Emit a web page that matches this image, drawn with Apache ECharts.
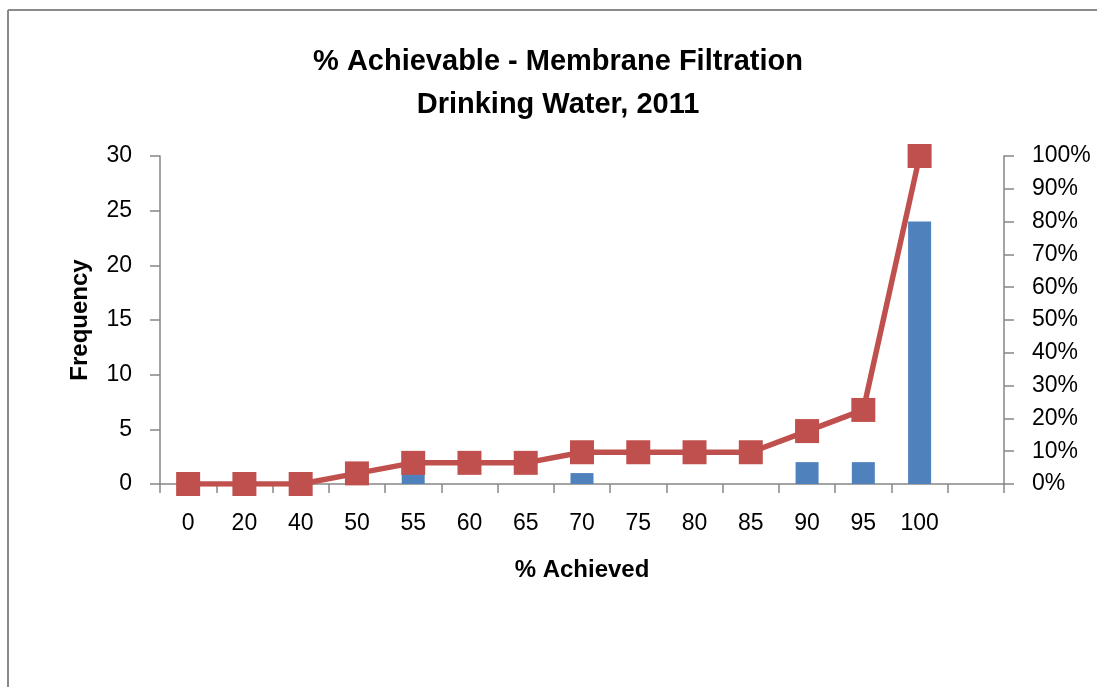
<!DOCTYPE html>
<html>
<head>
<meta charset="utf-8">
<script src="https://cdn.jsdelivr.net/npm/echarts@6/dist/echarts.min.js"></script>
<style>
html,body{margin:0;padding:0;background:#fff;}
#chart{width:1097px;height:687px;}
</style>
</head>
<body>
<div id="chart"></div>
<script>
const categories = ['0','20','40','50','55','60','65','70','75','80','85','90','95','100',''];
const frequency = [0,0,0,1,1,0,0,1,0,0,0,2,2,24,0];
const cumulativePct = [0,0,0,3.23,6.45,6.45,6.45,9.68,9.68,9.68,9.68,16.13,22.58,100,null];
const freqTicks = {min:0,max:30,interval:5};
const pctTicks = {min:0,max:100,interval:10};

const FONT = 'Liberation Sans';
const axisGray = '#868686';
const chart = echarts.init(document.getElementById('chart'));
chart.setOption({
  animation:false,
  backgroundColor:'#fff',
  textStyle:{fontFamily:FONT},
  title:{
    text:'% Achievable - Membrane Filtration\nDrinking Water, 2011',
    left:553, top:35, textAlign:'center',
    textStyle:{fontFamily:FONT,fontSize:29,fontWeight:'bold',color:'#000',lineHeight:43}
  },
  graphic:[
    {type:'line',shape:{x1:8,y1:10,x2:1097,y2:10},style:{stroke:'#8a8a8a',lineWidth:2}},
    {type:'line',shape:{x1:8,y1:10,x2:8,y2:687},style:{stroke:'#8a8a8a',lineWidth:2}}
  ],
  grid:{left:160,right:93,top:156,bottom:203},
  xAxis:{
    type:'category',data:categories,
    name:'% Achieved',nameLocation:'middle',nameGap:74,
    nameTextStyle:{fontFamily:FONT,fontSize:24,fontWeight:'bold',color:'#000'},
    axisLine:{lineStyle:{color:axisGray,width:1.5}},
    axisTick:{show:true,length:9,lineStyle:{color:axisGray,width:1.5}},
    axisLabel:{fontSize:23,color:'#000',margin:28,interval:0}
  },
  yAxis:[
    {type:'value',min:freqTicks.min,max:freqTicks.max,interval:freqTicks.interval,
     name:'Frequency',nameLocation:'middle',nameGap:68,nameRotate:90,
     nameTextStyle:{fontFamily:FONT,fontSize:24,fontWeight:'bold',color:'#000'},
     axisLine:{show:true,lineStyle:{color:axisGray,width:1.5}},
     axisTick:{show:true,length:10,lineStyle:{color:axisGray,width:1.5}},
     splitLine:{show:false},
     axisLabel:{fontSize:23,color:'#000',margin:28}},
    {type:'value',min:pctTicks.min,max:pctTicks.max,interval:pctTicks.interval,
     position:'right',
     axisLine:{show:true,lineStyle:{color:axisGray,width:1.5}},
     axisTick:{show:true,length:10,lineStyle:{color:axisGray,width:1.5}},
     splitLine:{show:false},
     axisLabel:{fontSize:23,color:'#000',margin:28,formatter:'{value}%'}}
  ],
  series:[
    {type:'bar',name:'Frequency',data:frequency,yAxisIndex:0,barWidth:23,
     itemStyle:{color:'#4F81BD'},z:2},
    {type:'line',name:'Cumulative %',data:cumulativePct,yAxisIndex:1,
     symbol:'rect',symbolSize:24,
     lineStyle:{color:'#C0504D',width:5.5},
     itemStyle:{color:'#C0504D',borderRadius:2},z:3}
  ]
});
</script>
</body>
</html>
